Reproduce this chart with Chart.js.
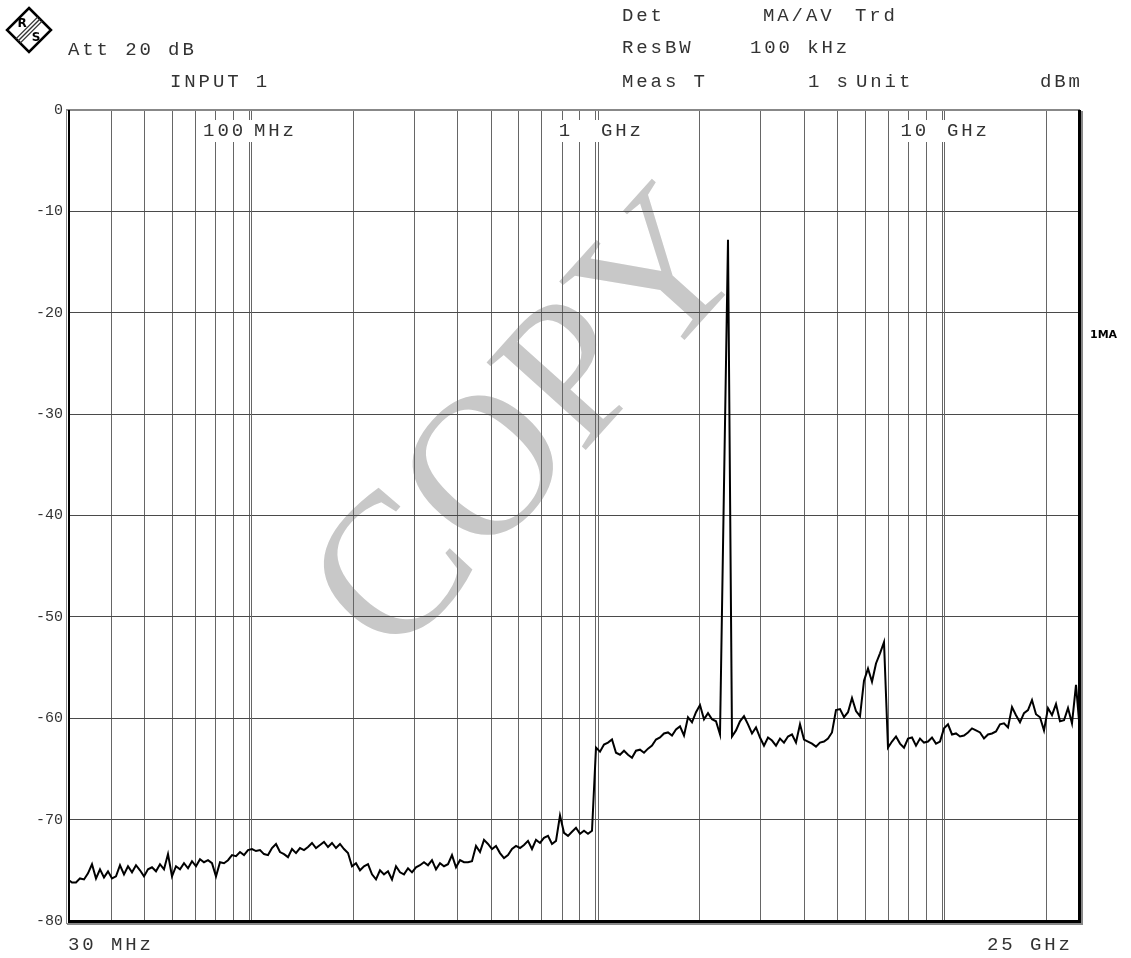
<!DOCTYPE html>
<html lang="en">
<head>
    <meta charset="UTF-8">
    <title>Spectrum 30 MHz - 25 GHz</title>
    <script src="https://cdn.jsdelivr.net/npm/chart.js@4.4.0/dist/chart.umd.min.js"></script>
    <style>
        html, body { margin: 0; padding: 0; background: #fff; }
        #wrap { width: 1131px; height: 958px; }
    </style>
</head>
<body>
<div id="wrap"><canvas id="spectrum" width="1131" height="958"></canvas></div>

<script>
    // sweep limits (MHz) and the trace, one level per sweep point
    const START_MHZ = 30;
    const STOP_MHZ = 25000;

    const LEVEL_DBM = [
        -75.9, -76.2, -76.2, -75.8, -75.9, -75.3, -74.4, -75.8, -74.9, -75.7,
        -75.1, -75.8, -75.6, -74.5, -75.4, -74.6, -75.2, -74.5, -75.0, -75.6,
        -74.9, -74.7, -75.1, -74.4, -74.9, -73.4, -75.6, -74.6, -74.9, -74.3,
        -74.8, -74.1, -74.6, -73.9, -74.2, -74.0, -74.3, -75.6, -74.2, -74.3,
        -74.0, -73.5, -73.6, -73.2, -73.5, -73.0, -72.9, -73.1, -73.0, -73.4,
        -73.5, -72.8, -72.4, -73.2, -73.4, -73.7, -72.9, -73.3, -72.8, -73.0,
        -72.7, -72.3, -72.8, -72.5, -72.2, -72.7, -72.3, -72.8, -72.4, -72.9,
        -73.3, -74.6, -74.3, -75.0, -74.6, -74.4, -75.4, -75.9, -75.0, -75.4,
        -75.1, -75.9, -74.6, -75.2, -75.4, -74.8, -75.2, -74.7, -74.5, -74.2,
        -74.5, -74.0, -74.9, -74.3, -74.6, -74.4, -73.5, -74.7, -74.0, -74.2,
        -74.2, -74.1, -72.6, -73.2, -72.0, -72.4, -72.9, -72.6, -73.3, -73.8,
        -73.5, -72.9, -72.6, -72.8, -72.5, -72.1, -72.9, -72.0, -72.3, -71.8,
        -71.6, -72.4, -72.1, -69.6, -71.3, -71.6, -71.2, -70.8, -71.4, -71.1,
        -71.4, -71.1, -62.9, -63.3, -62.6, -62.4, -62.1, -63.4, -63.6, -63.2,
        -63.6, -63.9, -63.2, -63.1, -63.4, -63.0, -62.7, -62.1, -61.9, -61.5,
        -61.4, -61.7, -61.1, -60.8, -61.7, -59.9, -60.4, -59.4, -58.7, -60.1,
        -59.5, -60.1, -60.3, -61.6, -37.0, -12.8, -61.8, -61.2, -60.3, -59.8,
        -60.6, -61.5, -60.9, -61.9, -62.7, -61.9, -62.2, -62.7, -62.0, -62.4,
        -61.8, -61.6, -62.4, -60.6, -62.1, -62.3, -62.5, -62.8, -62.4, -62.3,
        -62.0, -61.4, -59.2, -59.1, -59.9, -59.4, -58.0, -59.3, -59.8, -56.3,
        -55.1, -56.4, -54.6, -53.6, -52.5, -62.9, -62.3, -61.8, -62.5, -62.9,
        -62.0, -61.9, -62.7, -62.0, -62.4, -62.3, -61.9, -62.5, -62.3, -61.0,
        -60.6, -61.6, -61.5, -61.8, -61.7, -61.4, -61.0, -61.2, -61.4, -62.0,
        -61.6, -61.5, -61.3, -60.6, -60.5, -60.9, -58.9, -59.7, -60.4, -59.5,
        -59.2, -58.2, -59.6, -59.9, -61.2, -59.0, -59.7, -58.6, -60.3, -60.2,
        -59.0, -60.5, -56.7, -61.4
    ];

    // vertical grid (MHz) and the decade markers printed inside the top of the plot
    const GRID_MHZ = [40, 50, 60, 70, 80, 90, 100, 200, 300, 400, 500, 600, 700, 800, 900,
        1000, 2000, 3000, 4000, 5000, 6000, 7000, 8000, 9000, 10000, 20000];
    const DECADE_MHZ = [100, 1000, 10000];
    const DECADE_NUM = ['100', '1', '10'];
    const DECADE_UNIT = ['MHz', 'GHz', 'GHz'];

    // log-spaced sweep points of the analyzer
    const sweepMHz = LEVEL_DBM.map((_, i) =>
        START_MHZ * Math.pow(STOP_MHZ / START_MHZ, i / (LEVEL_DBM.length - 1)));

    const MONO = '"Liberation Mono", "DejaVu Sans Mono", monospace';

    function spaced(ctx, text, x, y, step) {
        for (let i = 0; i < text.length; i++) {
            ctx.fillText(text[i], x + i * step, y);
        }
    }

    function drawLogo(ctx) {
        const cx = 29, cy = 30, r = 22;
        ctx.save();
        ctx.strokeStyle = '#000';
        ctx.lineWidth = 2.5;
        ctx.beginPath();
        ctx.moveTo(cx, cy - r);
        ctx.lineTo(cx + r, cy);
        ctx.lineTo(cx, cy + r);
        ctx.lineTo(cx - r, cy);
        ctx.closePath();
        ctx.stroke();
        // stripes across the middle
        ctx.lineWidth = 1.4;
        ctx.strokeStyle = '#333';
        [-3, 0, 3].forEach(o => {
            const d = o / Math.SQRT2;
            ctx.beginPath();
            ctx.moveTo(cx + r / 2 + d, cy - r / 2 + d);
            ctx.lineTo(cx - r / 2 + d, cy + r / 2 + d);
            ctx.stroke();
        });
        ctx.fillStyle = '#000';
        ctx.font = 'bold 12px "DejaVu Sans"';
        ctx.textAlign = 'center';
        ctx.textBaseline = 'middle';
        ctx.fillText('R', cx - 7, cy - 6);
        ctx.fillText('S', cx + 7, cy + 8);
        ctx.restore();
    }

    const analyzerFrame = {
        id: 'analyzerFrame',
        beforeDraw(chart) {
            const ctx = chart.ctx;
            ctx.save();
            ctx.fillStyle = '#fff';
            ctx.fillRect(0, 0, chart.width, chart.height);
            // watermark
            ctx.translate(534, 428);
            ctx.rotate(-48 * Math.PI / 180);
            ctx.font = '202px "Liberation Serif"';
            ctx.fillStyle = '#c8c8c8';
            ctx.textAlign = 'center';
            ctx.textBaseline = 'middle';
            ctx.fillText('COPY', 0, 0);
            ctx.restore();
        },
        beforeDatasetsDraw(chart) {
            // decade lines are doubled
            const ctx = chart.ctx, x = chart.scales.x, a = chart.chartArea;
            ctx.save();
            ctx.strokeStyle = '#666';
            ctx.lineWidth = 1;
            DECADE_MHZ.forEach(v => {
                const px = Math.round(x.getPixelForValue(v)) + 2.5;
                ctx.beginPath();
                ctx.moveTo(px, a.top);
                ctx.lineTo(px, a.bottom);
                ctx.stroke();
            });
            ctx.restore();
        },
        afterDraw(chart) {
            const ctx = chart.ctx, x = chart.scales.x, a = chart.chartArea;
            const step = 14.3;
            ctx.save();
            ctx.font = '19px ' + MONO;
            ctx.textBaseline = 'middle';
            ctx.textAlign = 'left';

            // decade labels on white boxes
            DECADE_MHZ.forEach((v, i) => {
                const px = Math.round(x.getPixelForValue(v));
                const num = DECADE_NUM[i], unit = DECADE_UNIT[i];
                const n0 = px - 3 - num.length * step - (3 - num.length) * 10;
                const u0 = px + 5;
                ctx.fillStyle = '#fff';
                ctx.fillRect(n0 - 3, a.top + 10, (u0 + unit.length * step + 2) - (n0 - 3), 22);
                ctx.fillStyle = '#333';
                spaced(ctx, num, n0, a.top + 21, step);
                spaced(ctx, unit, u0, a.top + 21, step);
            });

            // frame
            ctx.fillStyle = '#888';
            ctx.fillRect(a.left - 2, a.top - 1, a.right - a.left + 2, 2);
            ctx.fillRect(a.left - 2, a.top - 1, 1, a.bottom - a.top + 4);
            ctx.fillRect(a.left - 1, a.bottom + 2, a.right - a.left + 4, 2);
            ctx.fillRect(a.right + 1, a.top + 1, 2, a.bottom - a.top + 3);
            ctx.fillStyle = '#000';
            ctx.fillRect(a.left, a.top, 2, a.bottom - a.top + 2);
            ctx.fillRect(a.left, a.bottom - 1, a.right - a.left + 1, 3);
            ctx.fillRect(a.right - 2, a.top, 3, a.bottom - a.top + 2);

            // header
            ctx.fillStyle = '#333';
            spaced(ctx, 'Att 20 dB', 68, 50, step);
            spaced(ctx, 'INPUT 1', 170, 82, step);
            spaced(ctx, 'Det', 622, 16, step);
            spaced(ctx, 'MA/AV', 763, 16, step);
            spaced(ctx, 'Trd', 855, 16, step);
            spaced(ctx, 'ResBW', 622, 48, step);
            spaced(ctx, '100 kHz', 750, 48, step);
            spaced(ctx, 'Meas T', 622, 82, step);
            spaced(ctx, '1 s', 808, 82, step);
            spaced(ctx, 'Unit', 856, 82, step);
            spaced(ctx, 'dBm', 1040, 82, step);

            // span limits
            spaced(ctx, '30 MHz', 68, 945, step);
            spaced(ctx, '25 GHz', 987, 945, step);

            // trace marker
            ctx.fillStyle = '#000';
            ctx.font = 'bold 11px "DejaVu Sans"';
            ctx.fillText('1MA', 1090, 335);
            ctx.restore();

            drawLogo(ctx);
        }
    };

    const ctx = document.getElementById('spectrum').getContext('2d');
    new Chart(ctx, {
        type: 'line',
        data: {
            datasets: [{
                label: '1MA',
                data: LEVEL_DBM.map((y, i) => ({ x: sweepMHz[i], y: y })),
                borderColor: '#000',
                borderWidth: 2,
                pointRadius: 0,
                tension: 0,
                fill: false
            }]
        },
        options: {
            responsive: false,
            animation: false,
            devicePixelRatio: 1,
            layout: { padding: { top: 110, right: 51, bottom: 0, left: 0 } },
            plugins: {
                legend: { display: false },
                tooltip: { enabled: false }
            },
            scales: {
                x: {
                    type: 'logarithmic',
                    min: START_MHZ,
                    max: STOP_MHZ,
                    afterBuildTicks: (scale) => {
                        scale.ticks = GRID_MHZ.map(v => ({ value: v }));
                    },
                    afterFit: (scale) => { scale.height = 37; },
                    ticks: { display: false, autoSkip: false },
                    grid: { color: '#666', lineWidth: 1, drawTicks: false },
                    border: { display: false }
                },
                y: {
                    min: -80,
                    max: 0,
                    afterFit: (scale) => { scale.width = 68; },
                    ticks: {
                        stepSize: 10,
                        padding: 5,
                        color: '#333',
                        font: { family: MONO, size: 15 },
                        callback: (v) => String(v)
                    },
                    grid: { color: '#4a4a4a', lineWidth: 1, drawTicks: false },
                    border: { display: false }
                }
            }
        },
        plugins: [analyzerFrame]
    });
</script>
</body>
</html>
